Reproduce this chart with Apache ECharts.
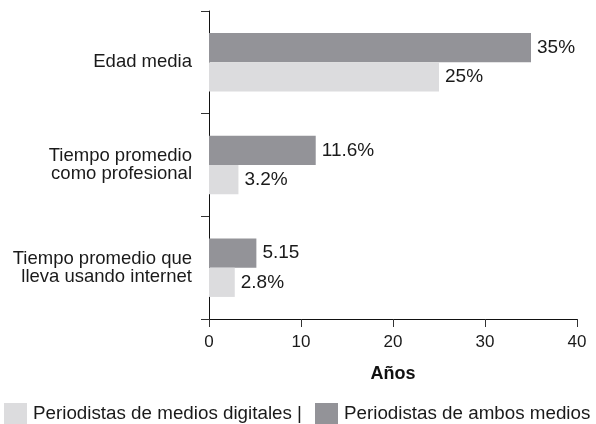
<!DOCTYPE html>
<html><head><meta charset="utf-8">
<script src="https://cdn.jsdelivr.net/npm/echarts@6/dist/echarts.min.js"></script>
<style>html,body{margin:0;padding:0;background:#fff}#c{width:596px;height:424px}</style>
</head><body><div id="c"></div>
<script>
const categories = ['Edad media', 'Tiempo promedio\ncomo profesional', 'Tiempo promedio que\nlleva usando internet'];
const ambosValues = [35, 11.6, 5.15];
const ambosLabels = ['35%', '11.6%', '5.15'];
const digitalesValues = [25, 3.2, 2.8];
const digitalesLabels = ['25%', '3.2%', '2.8%'];
const xTicks = [0, 10, 20, 30, 40];
const seriesNames = ['Periodistas de medios digitales |', 'Periodistas de ambos medios'];

const font = '"Liberation Sans", Arial, Helvetica, sans-serif';
const chart = echarts.init(document.getElementById('c'));
chart.setOption({
  animation: false,
  textStyle: { fontFamily: font },
  grid: { left: 209, right: 19, top: 11, bottom: 105, containLabel: false },
  legend: {
    data: seriesNames,
    left: 4, top: 403, padding: 0,
    itemWidth: 23, itemHeight: 21, itemGap: 13,
    icon: 'rect',
    textStyle: { fontSize: 18.8, color: '#1a1a1a', fontFamily: font, padding: [0, 0, 0, 1] }
  },
  xAxis: {
    type: 'value', min: xTicks[0], max: xTicks[xTicks.length - 1], interval: 10,
    name: 'Años', nameLocation: 'middle', nameGap: 46,
    nameTextStyle: { fontSize: 18, fontWeight: 'bold', color: '#111', fontFamily: font },
    axisLine: { show: true, lineStyle: { color: '#111', width: 1 } },
    axisTick: { show: true, length: 8, lineStyle: { color: '#333' } },
    axisLabel: { fontSize: 17, color: '#1a1a1a', margin: 15, fontFamily: font },
    splitLine: { show: false }
  },
  yAxis: {
    type: 'category', data: categories, inverse: true,
    axisLine: { show: true, lineStyle: { color: '#111', width: 1 } },
    axisTick: { show: true, length: 8, lineStyle: { color: '#333' } },
    axisLabel: { fontSize: 18.5, color: '#1a1a1a', margin: 17, lineHeight: 18, align: 'right', fontFamily: font }
  },
  series: [
    {
      name: seriesNames[1], type: 'bar', data: ambosValues,
      itemStyle: { color: '#939398' }, barGap: '0%', barCategoryGap: '43%',
      label: { show: true, position: 'right', distance: 6, fontSize: 19, color: '#1a1a1a', fontFamily: font,
        formatter: p => ambosLabels[p.dataIndex] }
    },
    {
      name: seriesNames[0], type: 'bar', data: digitalesValues,
      itemStyle: { color: '#dcdcde' }, barGap: '0%', barCategoryGap: '43%',
      label: { show: true, position: 'right', distance: 6, fontSize: 19, color: '#1a1a1a', fontFamily: font,
        formatter: p => digitalesLabels[p.dataIndex] }
    }
  ]
});
</script></body></html>
